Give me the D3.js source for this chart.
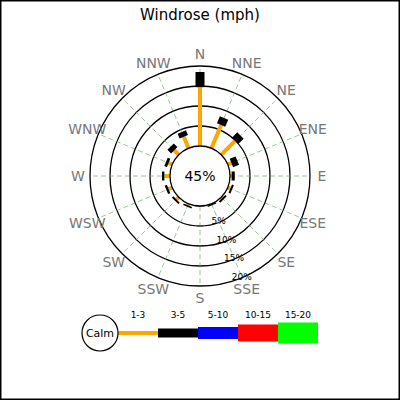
<!DOCTYPE html>
<html>
<head>
<meta charset="utf-8">
<script src="https://cdn.jsdelivr.net/npm/d3@7"></script>
<style>
  body { margin: 0; background: #fff; }
  text { font-family: "DejaVu Sans", sans-serif; }
</style>
</head>
<body>
<div id="chart"></div>
<script>
'use strict';

// directions, clockwise from north
var directions = ['N', 'NNE', 'NE', 'ENE', 'E', 'ESE', 'SE', 'SSE',
                  'S', 'SSW', 'SW', 'WSW', 'W', 'WNW', 'NW', 'NNW'];
var speedBins = ['1-3', '3-5', '5-10', '10-15', '15-20'];

// percent frequency per direction, one array per speed bin
var bin1to3   = [14.7, 6.3, 4.9, 1.0, 0.4, 0.7, 0.3, 0.1, 0.1, 0.4, 0.8, 1.0, 1.4, 1.0, 1.6, 3.1];
var bin3to5   = [3.8, 1.9, 1.9, 1.6, 0.8, 0.5, 0.5, 0.3, 0.1, 0.4, 0.5, 0.6, 0.6, 0.7, 1.3, 1.3];
var bin5to10  = [0, 0, 0, 0, 0, 0, 0, 0, 0, 0, 0, 0, 0, 0, 0, 0];
var bin10to15 = [0, 0, 0, 0, 0, 0, 0, 0, 0, 0, 0, 0, 0, 0, 0, 0];
var bin15to20 = [0, 0, 0, 0, 0, 0, 0, 0, 0, 0, 0, 0, 0, 0, 0, 0];
var ringTicks = [5, 10, 15, 20];
var calmPct = 45;

var series = [bin1to3, bin3to5, bin5to10, bin10to15, bin15to20];
var binColors = ['orange', 'black', 'blue', 'red', 'lime'];
var binWidths = [4, 9, 12, 17, 21];

var W = 400, H = 400;
var cx = 200, cy = 176;

var svg = d3.select('#chart').append('svg')
  .attr('width', W)
  .attr('height', H);

svg.append('rect')
  .attr('x', 0.75).attr('y', 0.75)
  .attr('width', W - 1.5).attr('height', H - 1.5)
  .attr('fill', '#fff')
  .attr('stroke', '#000')
  .attr('stroke-width', 1.5);

svg.append('text')
  .attr('x', W / 2).attr('y', 20)
  .attr('text-anchor', 'middle')
  .attr('font-size', 15)
  .text('Windrose (mph)');

var r = d3.scaleLinear().domain([0, 20]).range([30, 110]);
var angle = d3.scaleLinear().domain([0, directions.length]).range([0, 2 * Math.PI]);

function px(a, rad) { return Math.sin(a) * rad; }
function py(a, rad) { return -Math.cos(a) * rad; }

var g = svg.append('g')
  .attr('transform', 'translate(' + cx + ',' + cy + ')');

// rings
g.selectAll('circle.ring').data(ringTicks).enter()
  .append('circle')
  .attr('class', 'ring')
  .attr('r', function(d){ return r(d); })
  .attr('fill', 'none')
  .attr('stroke', '#000')
  .attr('stroke-width', 1.3);

// radial grid
g.selectAll('line.spoke').data(directions).enter()
  .append('line')
  .attr('class', 'spoke')
  .attr('x1', function(d, i){ return px(angle(i), r(0)); })
  .attr('y1', function(d, i){ return py(angle(i), r(0)); })
  .attr('x2', function(d, i){ return px(angle(i), r(20)); })
  .attr('y2', function(d, i){ return py(angle(i), r(20)); })
  .attr('stroke', '#5a5')
  .attr('stroke-opacity', 0.8)
  .attr('stroke-width', 0.8)
  .attr('stroke-dasharray', '5,3');

// stacked bars
var stacked = [];
directions.forEach(function(dir, i){
  var base = 0;
  series.forEach(function(s, k){
    if (s[i] > 0) {
      stacked.push({ i: i, k: k, y0: base, y1: base + s[i] });
    }
    base += s[i];
  });
});

g.selectAll('line.bar').data(stacked).enter()
  .append('line')
  .attr('class', 'bar')
  .attr('x1', function(d){ return px(angle(d.i), r(d.y0)); })
  .attr('y1', function(d){ return py(angle(d.i), r(d.y0)); })
  .attr('x2', function(d){ return px(angle(d.i), r(d.y1)); })
  .attr('y2', function(d){ return py(angle(d.i), r(d.y1)); })
  .attr('stroke', function(d){ return binColors[d.k]; })
  .attr('stroke-width', function(d){ return binWidths[d.k]; })
  .attr('stroke-linecap', 'butt');

// calm circle
g.append('circle')
  .attr('r', r(0))
  .attr('fill', '#fff')
  .attr('stroke', '#000')
  .attr('stroke-width', 1.3);

g.append('text')
  .attr('dy', '0.35em')
  .attr('text-anchor', 'middle')
  .attr('font-size', 14)
  .text(calmPct + '%');

// direction labels
g.selectAll('text.dir').data(directions).enter()
  .append('text')
  .attr('class', 'dir')
  .attr('x', function(d, i){ return px(angle(i), 122); })
  .attr('y', function(d, i){ return py(angle(i), 122); })
  .attr('dy', '0.35em')
  .attr('text-anchor', 'middle')
  .attr('font-size', 14)
  .attr('fill', '#777')
  .text(function(d){ return d; });

// ring labels along SSE
var labelAngle = angle(directions.indexOf('SSE'));
g.selectAll('text.ringlab').data(ringTicks).enter()
  .append('text')
  .attr('class', 'ringlab')
  .attr('x', function(d){ return px(labelAngle, r(d) - 1); })
  .attr('y', function(d){ return py(labelAngle, r(d) - 1); })
  .attr('dy', '0.35em')
  .attr('text-anchor', 'middle')
  .attr('font-size', 9)
  .text(function(d){ return d + '%'; });

// legend
var ly = 333;
var lx = d3.scaleBand().domain(speedBins).range([118, 318]);
var legend = svg.append('g');

legend.selectAll('line.key').data(speedBins).enter()
  .append('line')
  .attr('class', 'key')
  .attr('x1', function(d){ return lx(d); })
  .attr('x2', function(d){ return lx(d) + lx.bandwidth(); })
  .attr('y1', ly).attr('y2', ly)
  .attr('stroke', function(d, i){ return binColors[i]; })
  .attr('stroke-width', function(d, i){ return binWidths[i]; });

legend.selectAll('text.key').data(speedBins).enter()
  .append('text')
  .attr('class', 'key')
  .attr('x', function(d){ return lx(d) + lx.bandwidth() / 2; })
  .attr('y', ly - 15)
  .attr('text-anchor', 'middle')
  .attr('font-size', 9)
  .text(function(d){ return d; });

legend.append('circle')
  .attr('cx', 100).attr('cy', ly)
  .attr('r', 18)
  .attr('fill', '#fff')
  .attr('stroke', '#000')
  .attr('stroke-width', 1.2);

legend.append('text')
  .attr('x', 100).attr('y', ly)
  .attr('dy', '0.35em')
  .attr('text-anchor', 'middle')
  .attr('font-size', 11)
  .text('Calm');
</script>
</body>
</html>
